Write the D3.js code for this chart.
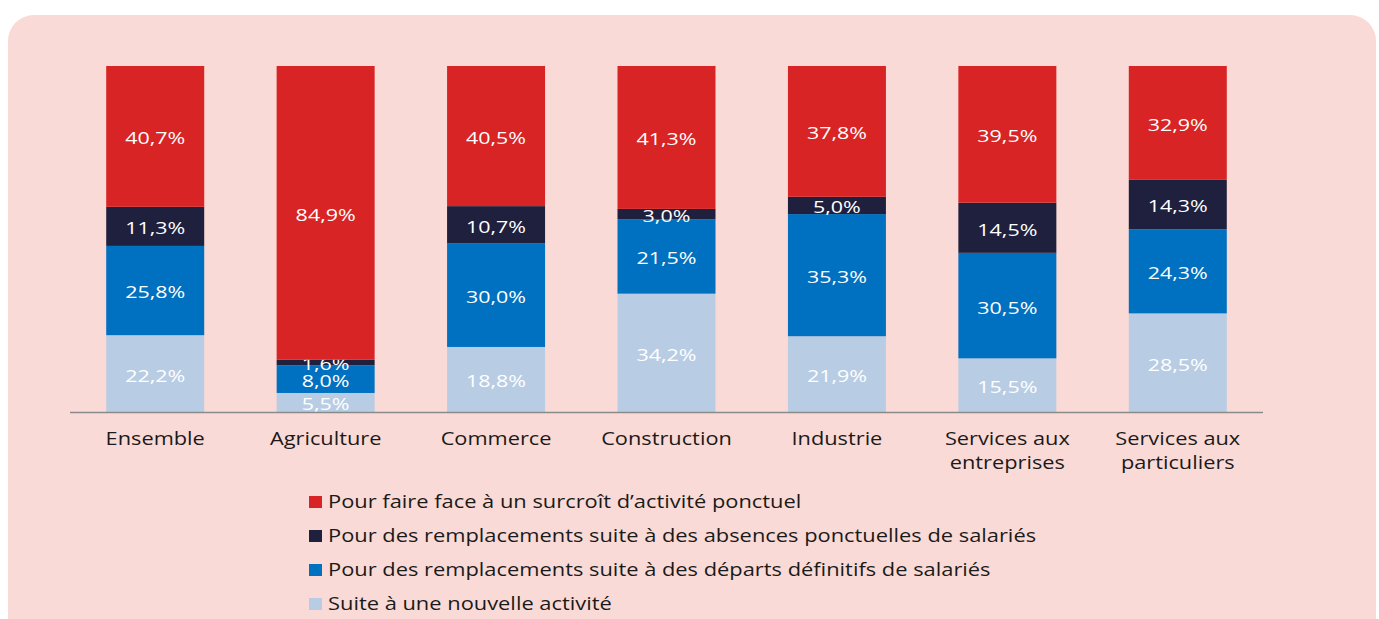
<!DOCTYPE html>
<html>
<head>
<meta charset="utf-8">
<script src="https://cdn.jsdelivr.net/npm/d3@7"></script>
<style>
  body { margin: 0; background: #fff; }
  svg text { font-family: "Open Sans", "Noto Sans", sans-serif; }
</style>
</head>
<body>
<div id="viz"></div>
<script>
const categories = [
  ['Ensemble'], ['Agriculture'], ['Commerce'], ['Construction'], ['Industrie'],
  ['Services aux', 'entreprises'], ['Services aux', 'particuliers']
];
const seriesNames = [
  'Suite à une nouvelle activité',
  'Pour des remplacements suite à des départs définitifs de salariés',
  'Pour des remplacements suite à des absences ponctuelles de salariés',
  'Pour faire face à un surcroît d’activité ponctuel'
];
const nouvelle = [22.2, 5.5, 18.8, 34.2, 21.9, 15.5, 28.5];
const departs = [25.8, 8.0, 30.0, 21.5, 35.3, 30.5, 24.3];
const absences = [11.3, 1.6, 10.7, 3.0, 5.0, 14.5, 14.3];
const surcroit = [40.7, 84.9, 40.5, 41.3, 37.8, 39.5, 32.9];
const colors = ['#b8cde4', '#0070c0', '#1f1f3e', '#d82424'];

const width = 1379, height = 619;
const svg = d3.select('#viz').append('svg')
  .attr('width', width)
  .attr('height', height);

svg.append('rect')
  .attr('x', 8).attr('y', 15)
  .attr('width', 1368).attr('height', 640)
  .attr('rx', 26)
  .attr('fill', '#fadad6');

const rows = categories.map((c, i) => ({
  key: c.join(' '),
  lines: c,
  s0: nouvelle[i], s1: departs[i], s2: absences[i], s3: surcroit[i]
}));

const x = d3.scaleBand()
  .domain(rows.map(d => d.key))
  .range([70, 1263])
  .paddingInner(0.425)
  .paddingOuter(0.2125);

const y = d3.scaleLinear().domain([0, 100]).range([412, 66]);

const stack = d3.stack().keys(['s0', 's1', 's2', 's3']);
const layers = stack(rows);

// the source font is wide, so text gets a horizontal stretch
const stretch = (tx, ty, sx) => `translate(${tx},${ty}) scale(${sx},1)`;

const g = svg.selectAll('.layer')
  .data(layers)
  .enter()
  .append('g')
  .attr('fill', (d, i) => colors[i]);

g.selectAll('rect')
  .data(d => d)
  .enter()
  .append('rect')
  .attr('x', d => x(d.data.key))
  .attr('width', x.bandwidth())
  .attr('y', d => y(d[1]))
  .attr('height', d => y(d[0]) - y(d[1]));

g.selectAll('text')
  .data(d => d.map(p => ({ p, key: d.key })))
  .enter()
  .append('text')
  .attr('transform', d => stretch(x(d.p.data.key) + x.bandwidth() / 2, (y(d.p[0]) + y(d.p[1])) / 2, 1.3))
  .attr('dy', '0.48em')
  .attr('text-anchor', 'middle')
  .attr('fill', '#fff')
  .attr('font-size', 16.5)
  .text(d => d.p.data[d.key].toFixed(1).replace('.', ',') + '%');

svg.append('line')
  .attr('x1', 70).attr('x2', 1263)
  .attr('y1', 412.5).attr('y2', 412.5)
  .attr('stroke', '#8a8a8a')
  .attr('stroke-width', 1.5);

const labels = svg.selectAll('.cat')
  .data(rows)
  .enter()
  .append('text')
  .attr('text-anchor', 'middle')
  .attr('fill', '#1a1a1a')
  .attr('font-size', 18)
  .attr('transform', d => stretch(x(d.key) + x.bandwidth() / 2, 445, 1.21));

labels.selectAll('tspan')
  .data(d => d.lines)
  .enter()
  .append('tspan')
  .attr('x', 0)
  .attr('dy', (d, i) => i === 0 ? 0 : 24)
  .text(d => d);

const legendOrder = [3, 2, 1, 0];
const legend = svg.selectAll('.legend')
  .data(legendOrder)
  .enter()
  .append('g')
  .attr('transform', (d, i) => `translate(309, ${502 + i * 34})`);

legend.append('rect')
  .attr('x', 0).attr('y', -6)
  .attr('width', 13).attr('height', 12)
  .attr('fill', d => colors[d]);

legend.append('text')
  .attr('transform', stretch(19, 0, 1.215))
  .attr('dy', '0.36em')
  .attr('font-size', 18)
  .attr('fill', '#1a1a1a')
  .text(d => seriesNames[d]);
</script>
</body>
</html>
